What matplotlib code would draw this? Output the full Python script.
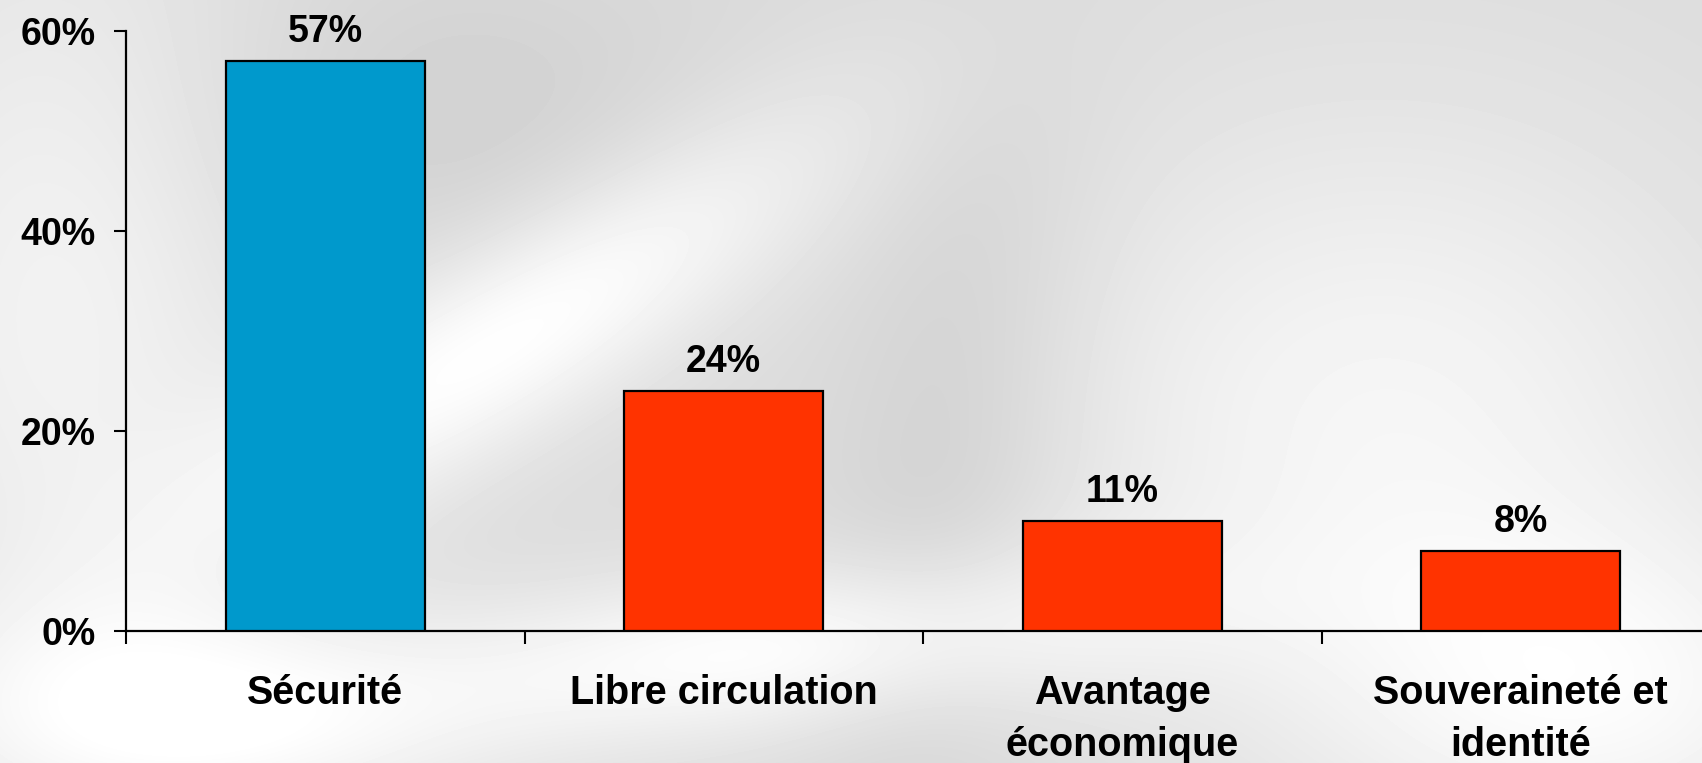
import numpy as np
import matplotlib
matplotlib.use("Agg")
import matplotlib.pyplot as plt

categories = ["Sécurité", "Libre circulation", "Avantage\néconomique", "Souveraineté et\nidentité"]
values = [57, 24, 11, 8]
value_labels = ["57%", "24%", "11%", "8%"]
bar_colors = ["#0099CC", "#FF3300", "#FF3300", "#FF3300"]
y_ticks = [0, 20, 40, 60]
y_tick_labels = ["0%", "20%", "40%", "60%"]

W, H, DPI = 1702, 763, 100
fig = plt.figure(figsize=(W / DPI, H / DPI), dpi=DPI)

# decorative grey background with soft white swirls
bg = fig.add_axes([0, 0, 1, 1], zorder=-10)
yy, xx = np.mgrid[0:H, 0:W]
field = np.full((H, W), 0.86)
def blob(cx, cy, sx, sy, amp, ang=0.0):
    c, s = np.cos(ang), np.sin(ang)
    dx, dy = xx - cx, yy - cy
    u = c * dx + s * dy
    v = -s * dx + c * dy
    return amp * np.exp(-(u ** 2 / (2 * sx ** 2) + v ** 2 / (2 * sy ** 2)))
field += blob(60, 300, 160, 300, 0.09)
field += blob(520, 330, 260, 70, 0.14, -0.55)
field += blob(780, 650, 260, 60, 0.13, -0.1)
field += blob(1380, 420, 260, 220, 0.10)
field += blob(200, 720, 200, 80, 0.12)
field += blob(1600, 700, 200, 120, 0.10)
field -= blob(950, 450, 90, 260, 0.05, 0.15)
field -= blob(430, 120, 200, 120, 0.04)
field = np.clip(field, 0, 1)
bg.imshow(field, cmap="gray", vmin=0, vmax=1, aspect="auto", interpolation="bilinear")
bg.axis("off")

left_px, zero_px, top60_px = 126, 631, 31
cat_w_px = 398.5
ax = fig.add_axes([left_px / W, (H - zero_px) / H, 4 * cat_w_px / W, (zero_px - top60_px) / H])
ax.patch.set_alpha(0)

x = np.arange(len(categories))
ax.bar(x, values, width=0.5, color=bar_colors, edgecolor="black", linewidth=1.6, zorder=3)

font = "Liberation Sans"
for xi, v, lab in zip(x, values, value_labels):
    ax.annotate(lab, (xi, v), xytext=(0, 13.5), textcoords="offset points",
                ha="center", va="baseline", fontsize=27, fontweight="bold", family=font)

ax.set_xlim(-0.5, len(categories) - 0.5)
ax.set_ylim(0, 60)
ax.set_yticks(y_ticks)
ax.set_yticklabels(y_tick_labels, fontsize=27, fontweight="bold", family=font)
ax.tick_params(axis="y", direction="out", length=9, width=1.5, pad=13)

ax.set_xticks(np.arange(len(categories) + 1) - 0.5)
ax.set_xticklabels([])
ax.tick_params(axis="x", which="major", direction="out", length=9, width=1.5)
ax.set_xticks(x, minor=True)
ax.set_xticklabels(categories, minor=True, fontsize=28.5, fontweight="bold", family=font, linespacing=1.45)
ax.tick_params(axis="x", which="minor", length=0, pad=31)

for side in ["top", "right"]:
    ax.spines[side].set_visible(False)
for side in ["left", "bottom"]:
    ax.spines[side].set_linewidth(1.6)

fig.savefig("out.png", dpi=DPI)
